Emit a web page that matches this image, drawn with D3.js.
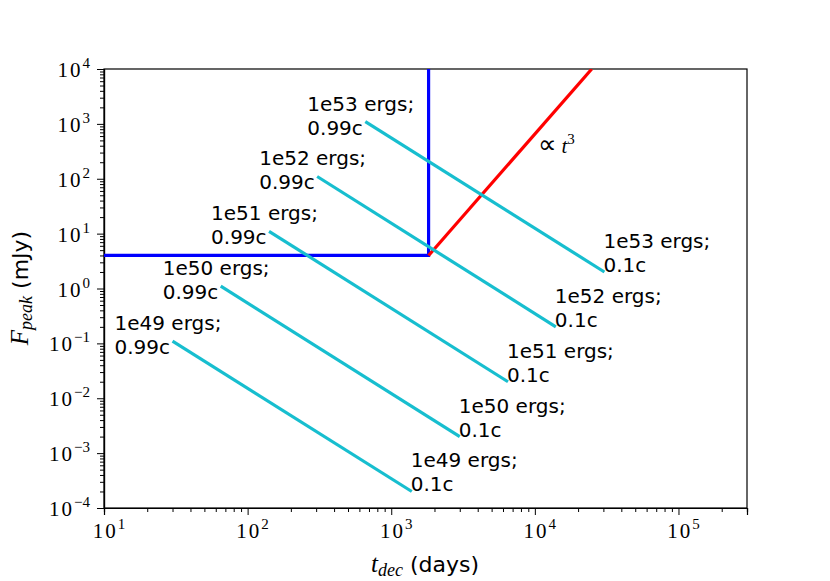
<!DOCTYPE html>
<html lang="en">
<head>
<meta charset="UTF-8">
<title>Peak flux vs deceleration time</title>
<script src="https://d3js.org/d3.v7.min.js"></script>
<style>
    body { margin: 0; background: #fff; }
    .domain { stroke: #000; stroke-width: 1.2px; }
    .tick line { stroke: #000; stroke-width: 1px; }
    path.track { fill: none; stroke: #17becf; stroke-width: 3.2px; }
    path.limit { fill: none; stroke: #0000ff; stroke-width: 3.2px; }
    path.powerlaw { fill: none; stroke: #ff0000; stroke-width: 3.2px; }
    text.lbl { font-family: "DejaVu Sans", sans-serif; font-size: 20px; fill: #000; }
    text.math { font-family: "Liberation Serif", "DejaVu Serif", serif; fill: #000; }
</style>
</head>
<body>
<svg width="830" height="581"></svg>
<script>
// energies of each track, fast (0.99c) start and slow (0.1c) end
let energies = ['1e49', '1e50', '1e51', '1e52', '1e53'];
let tFast = [30, 65, 141, 305, 660];
let fFast = [0.11, 1.1, 11, 110, 1100];
let tSlow = [1390, 3000, 6500, 14000, 30500];
let fSlow = [0.0002, 0.002, 0.02, 0.2, 2];

// blue limits and the red t^3 line
let limitT = [10, 1820, 1820];
let limitF = [4.0, 4.0, 10000];
let redT = [1820, 24900];
let redF = [4.0, 10000];

let xMajor = [1e1, 1e2, 1e3, 1e4, 1e5];
let yMajor = [1e-4, 1e-3, 1e-2, 1e-1, 1e0, 1e1, 1e2, 1e3, 1e4];

let svg = d3.select('svg');
let margins = {left: 104, right: 747, top: 69, bottom: 508};

let xscale = d3.scaleLog().domain([10, 3e5]).range([margins.left, margins.right]);
let yscale = d3.scaleLog().domain([1e-4, 1e4]).range([margins.bottom, margins.top]);

function minors(lo, hi) {
    let out = [];
    for (let e = Math.floor(Math.log10(lo)); e <= Math.ceil(Math.log10(hi)); e++) {
        for (let m = 2; m < 10; m++) {
            let v = m * Math.pow(10, e);
            if (v > lo && v < hi) out.push(v);
        }
    }
    return out;
}

svg.append('defs').append('clipPath').attr('id', 'plotclip')
    .append('rect')
    .attr('x', margins.left).attr('y', margins.top)
    .attr('width', margins.right - margins.left)
    .attr('height', margins.bottom - margins.top);

// frame
svg.append('rect')
    .attr('x', margins.left).attr('y', margins.top)
    .attr('width', margins.right - margins.left)
    .attr('height', margins.bottom - margins.top)
    .attr('fill', 'none').attr('stroke', '#000').attr('stroke-width', 1.2);

// axes: minor + major ticks
svg.append('g')
    .attr('transform', 'translate(0,' + margins.bottom + ')')
    .call(d3.axisBottom(xscale).tickValues(minors(10, 3e5)).tickSize(4).tickFormat(''));
svg.append('g')
    .attr('transform', 'translate(0,' + margins.bottom + ')')
    .call(d3.axisBottom(xscale).tickValues(xMajor).tickSize(7).tickFormat(''));
svg.append('g')
    .attr('transform', 'translate(' + margins.left + ',0)')
    .call(d3.axisLeft(yscale).tickValues(minors(1e-4, 1e4)).tickSize(4).tickFormat(''));
svg.append('g')
    .attr('transform', 'translate(' + margins.left + ',0)')
    .call(d3.axisLeft(yscale).tickValues(yMajor).tickSize(7).tickFormat(''));

function powLabel(sel, v) {
    let e = Math.round(Math.log10(v));
    sel.append('tspan').attr('letter-spacing', 2).text('10');
    sel.append('tspan').attr('dy', -9).attr('font-size', 15)
        .text(e < 0 ? '\u2212' + (-e) : String(e));
}

svg.selectAll('text.xtick').data(xMajor).enter().append('text')
    .attr('class', 'math xtick')
    .attr('x', d => xscale(d) + 5)
    .attr('y', 538)
    .attr('text-anchor', 'middle')
    .attr('font-size', 21)
    .each(function (d) { powLabel(d3.select(this), d); });

svg.selectAll('text.ytick').data(yMajor).enter().append('text')
    .attr('class', 'math ytick')
    .attr('x', 90)
    .attr('y', d => yscale(d) + 8)
    .attr('text-anchor', 'end')
    .attr('font-size', 21)
    .each(function (d) { powLabel(d3.select(this), d); });

// axis titles
let xt = svg.append('text').attr('x', 425).attr('y', 572).attr('text-anchor', 'middle');
xt.append('tspan').attr('font-style', 'italic').attr('font-size', 25)
    .attr('font-family', 'Liberation Serif, serif').text('t');
xt.append('tspan').attr('font-style', 'italic').attr('font-size', 18).attr('dy', 4)
    .attr('font-family', 'Liberation Serif, serif').text('dec');
xt.append('tspan').attr('dy', -4).attr('font-family', 'DejaVu Sans, sans-serif')
    .attr('font-size', 22).text(' (days)');

let yt = svg.append('text').attr('transform', 'translate(28,288) rotate(-90)')
    .attr('text-anchor', 'middle');
yt.append('tspan').attr('font-style', 'italic').attr('font-size', 25)
    .attr('font-family', 'Liberation Serif, serif').text('F');
yt.append('tspan').attr('font-style', 'italic').attr('font-size', 18).attr('dy', 4)
    .attr('font-family', 'Liberation Serif, serif').text('peak');
yt.append('tspan').attr('dy', -4).attr('font-family', 'DejaVu Sans, sans-serif')
    .attr('font-size', 22).text(' (mJy)');

// data marks
let line = d3.line().x(d => xscale(d[0])).y(d => yscale(d[1]));
let fig = svg.append('g').attr('clip-path', 'url(#plotclip)');

fig.append('path').attr('class', 'limit')
    .attr('d', line(limitT.map((t, i) => [t, limitF[i]])));
fig.append('path').attr('class', 'powerlaw')
    .attr('d', line(redT.map((t, i) => [t, redF[i]])));

let tracks = energies.map((e, i) => ({
    e: e, pts: [[tFast[i], fFast[i]], [tSlow[i], fSlow[i]]]
}));
fig.selectAll('path.track').data(tracks).enter().append('path')
    .attr('class', 'track')
    .attr('d', d => line(d.pts));

// track labels
let labels = svg.append('g');
tracks.forEach(function (d) {
    let x0 = xscale(d.pts[0][0]) - 58, y0 = yscale(d.pts[0][1]) + 13;
    let a = labels.append('text').attr('class', 'lbl');
    a.append('tspan').attr('x', x0).attr('y', y0 - 24).text(d.e + ' ergs;');
    a.append('tspan').attr('x', x0).attr('y', y0).text('0.99c');
    let x1 = xscale(d.pts[1][0]) - 1, y1 = yscale(d.pts[1][1]);
    let b = labels.append('text').attr('class', 'lbl');
    b.append('tspan').attr('x', x1).attr('y', y1 - 24).text(d.e + ' ergs;');
    b.append('tspan').attr('x', x1).attr('y', y1).text('0.1c');
});

// t^3 annotation
let ann = svg.append('text').attr('class', 'math')
    .attr('x', xscale(10500)).attr('y', yscale(300)).attr('font-size', 21);
ann.append('tspan').attr('font-family', 'DejaVu Sans, sans-serif').attr('font-size', 26).text('\u221D');
ann.append('tspan').attr('font-style', 'italic').attr('dx', 5).text('t');
ann.append('tspan').attr('dy', -9).attr('font-size', 15).text('3');
</script>
</body>
</html>
